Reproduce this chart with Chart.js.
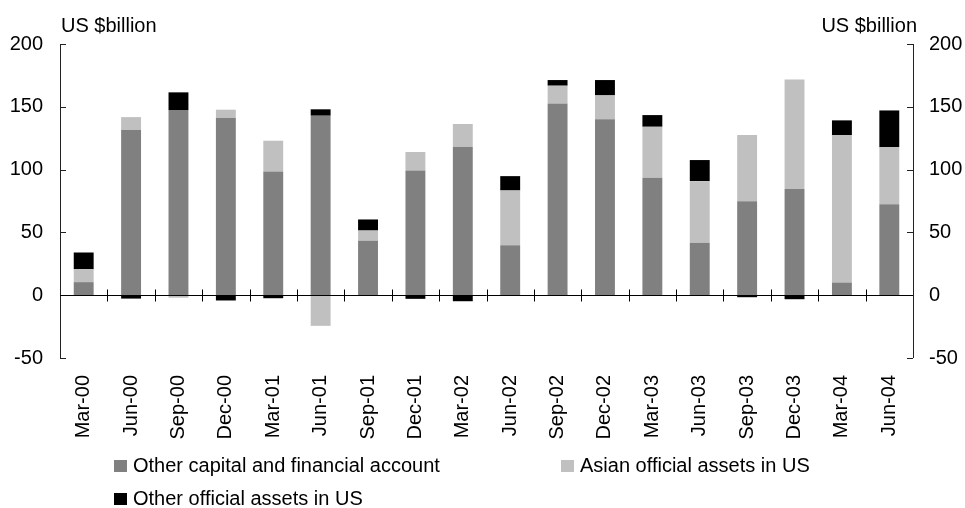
<!DOCTYPE html>
<html>
<head>
<meta charset="utf-8">
<script src="https://cdn.jsdelivr.net/npm/chart.js@4.4.1/dist/chart.umd.min.js"></script>
<style>
  html, body { margin: 0; padding: 0; background: #fff; }
  #wrap { position: relative; width: 965px; height: 508px; }
</style>
</head>
<body>
<div id="wrap"><canvas id="c" width="965" height="508"></canvas></div>
<script>
const categories = ['Mar-00','Jun-00','Sep-00','Dec-00','Mar-01','Jun-01','Sep-01','Dec-01','Mar-02','Jun-02','Sep-02','Dec-02','Mar-03','Jun-03','Sep-03','Dec-03','Mar-04','Jun-04'];
const otherCapital  = [10.4, 131.5, 147.4, 141.0, 98.5, 142.9, 43.3, 99.3, 117.9, 39.8, 152.7, 140.0, 93.5, 41.7, 74.9, 84.5, 10.1, 72.5];
const asianOfficial = [10.3, 10.3, -2.0, 6.7, 24.5, -24.4, 8.2, 14.7, 18.4, 43.6, 14.1, 19.1, 40.6, 49.1, 52.6, 87.3, 117.4, 45.4];
const otherOfficial = [13.3, -2.7, 14.1, -4.2, -2.4, 5.1, 8.8, -2.9, -4.8, 11.4, 4.5, 12.2, 9.3, 16.8, -1.6, -3.2, 11.7, 29.2];
const yMin = -50, yMax = 200, yStep = 50;
const unitLabel = 'US $billion';
const seriesNames = ['Other capital and financial account', 'Asian official assets in US', 'Other official assets in US'];
const seriesColors = ['#808080', '#c0c0c0', '#000000'];

const FONT = '"Liberation Sans", Arial, sans-serif';

const decor = {
  id: 'decor',
  afterDatasetsDraw(chart) {
    const ctx = chart.ctx;
    const a = chart.chartArea;
    const x = chart.scales.x, y = chart.scales.y;
    const px = v => Math.round(v) + 0.5;
    ctx.save();
    ctx.lineWidth = 1;
    ctx.strokeStyle = '#222';
    ctx.beginPath();
    const yt = y.getPixelForValue(yMax), yb = y.getPixelForValue(yMin);
    ctx.moveTo(px(a.left), yt); ctx.lineTo(px(a.left), yb);
    ctx.moveTo(px(a.right), yt); ctx.lineTo(px(a.right), yb);
    y.ticks.forEach(t => {
      const yy = px(y.getPixelForValue(t.value));
      ctx.moveTo(a.left, yy); ctx.lineTo(a.left + 6, yy);
      ctx.moveTo(a.right, yy); ctx.lineTo(a.right - 6, yy);
    });
    ctx.stroke();
    ctx.strokeStyle = '#000';
    ctx.beginPath();
    const y0 = px(y.getPixelForValue(0));
    ctx.moveTo(a.left, y0); ctx.lineTo(a.right, y0);
    for (let i = 1; i < categories.length; i++) {
      const xx = px((x.getPixelForValue(i - 1) + x.getPixelForValue(i)) / 2);
      ctx.moveTo(xx, y0 - 6); ctx.lineTo(xx, y0 + 6);
    }
    ctx.stroke();

    // unit titles
    ctx.fillStyle = '#000';
    ctx.font = '20px ' + FONT;
    ctx.textBaseline = 'alphabetic';
    ctx.textAlign = 'left';
    ctx.fillText(unitLabel, 61, 32);
    ctx.textAlign = 'right';
    ctx.fillText(unitLabel, 917, 32);

    // legend
    const items = [
      { x: 114, y: 460 },
      { x: 561, y: 460 },
      { x: 114, y: 493 }
    ];
    ctx.textAlign = 'left';
    chart.data.datasets.forEach((ds, i) => {
      const it = items[i];
      ctx.fillStyle = ds.backgroundColor;
      ctx.fillRect(it.x, it.y, 13, 12);
      ctx.fillStyle = '#000';
      ctx.fillText(ds.label, it.x + 19, it.y + 12);
    });
    ctx.restore();
  }
};

new Chart(document.getElementById('c'), {
  type: 'bar',
  data: {
    labels: categories,
    datasets: [
      { label: seriesNames[0], data: otherCapital, backgroundColor: seriesColors[0] },
      { label: seriesNames[1], data: asianOfficial, backgroundColor: seriesColors[1] },
      { label: seriesNames[2], data: otherOfficial, backgroundColor: seriesColors[2] }
    ]
  },
  plugins: [decor],
  options: {
    responsive: false,
    animation: false,
    devicePixelRatio: 1,
    layout: { padding: { top: 44, left: 0, right: 0, bottom: 0 } },
    plugins: { legend: { display: false }, tooltip: { enabled: false } },
    datasets: { bar: { categoryPercentage: 1.0, barPercentage: 0.42, borderWidth: 0 } },
    scales: {
      x: {
        stacked: true,
        grid: { display: false, drawTicks: false },
        border: { display: false },
        ticks: {
          autoSkip: false, maxRotation: 90, minRotation: 90, padding: 17,
          color: '#000', font: { family: FONT, size: 20 }
        },
        afterFit(s) { s.height = 150; }
      },
      y: {
        stacked: true, position: 'left', min: yMin, max: yMax,
        grid: { display: false, drawTicks: false },
        border: { display: false },
        ticks: { stepSize: yStep, padding: 17, color: '#000', font: { family: FONT, size: 20 } },
        afterFit(s) { s.width = 60; }
      },
      y2: {
        position: 'right', min: yMin, max: yMax,
        grid: { display: false, drawTicks: false },
        border: { display: false },
        ticks: { stepSize: yStep, padding: 16, color: '#000', font: { family: FONT, size: 20 } },
        afterFit(s) { s.width = 52; }
      }
    }
  }
});
</script>
</body>
</html>
